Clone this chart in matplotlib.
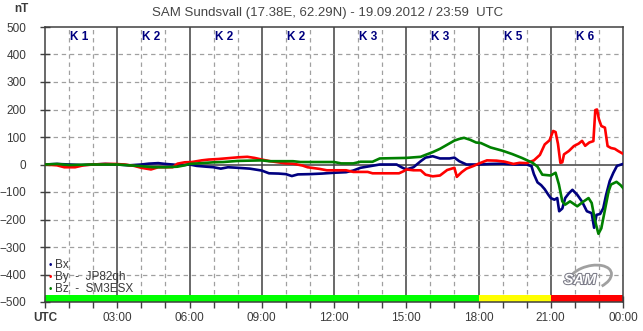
import matplotlib
matplotlib.use("Agg")
import matplotlib.pyplot as plt
from matplotlib.patches import Arc
import matplotlib.patheffects as pe

plt.rcParams['font.family'] = ['Liberation Sans', 'DejaVu Sans']

# ---- data (UTC hours, nT) ----
bx_t = [0, 0.5, 1, 1.5, 2, 2.5, 3, 3.5, 4, 4.3,
        4.7, 5, 5.3, 5.6, 6, 6.3, 6.7, 7, 7.3, 7.6,
        8, 8.5, 9, 9.3, 9.7, 10, 10.25, 10.5, 11, 11.5,
        12, 12.5, 12.8, 13.1, 13.5, 13.9, 14.3, 14.6, 14.8, 15,
        15.3, 15.6, 15.8, 16.1, 16.4, 16.8, 17.0, 17.2, 17.5, 18,
        18.5, 19, 19.5, 20, 20.2, 20.3, 20.45, 20.6, 20.75, 20.9,
        21.0, 21.15, 21.27, 21.35, 21.48, 21.6, 21.75, 21.9, 22.1, 22.3,
        22.5, 22.7, 22.8, 22.9, 23.05, 23.18, 23.3, 23.45, 23.6, 23.75,
        24]
bx = [0, 2, 0, -2, 0, 2, 0, -3, 0, 3,
      5, 2, 0, -3, 0, -5, -8, -10, -15, -10,
      -12, -15, -22, -32, -33, -35, -42, -36, -35, -33,
      -30, -28, -22, -12, -6, 0, 0, 0, -10, -18,
      -10, 12, 25, 30, 22, 22, 25, 12, 0, 0,
      2, 3, 0, 0, -6, -35, -65, -75, -90, -110,
      -122, -128, -122, -170, -160, -122, -105, -92, -110, -135,
      -170, -177, -230, -183, -180, -159, -110, -60, -30, -5,
      2]

by_t = [0, 0.5, 0.8, 1.25, 1.6, 2, 2.5, 2.9, 3.3, 3.7,
        4.0, 4.4, 4.7, 5.3, 5.5, 5.8, 6.1, 6.5, 6.8, 7.2,
        7.6, 8.0, 8.4, 8.7, 9.0, 9.35, 10.0, 10.3, 10.7, 10.9,
        11.4, 11.7, 12.5, 12.8, 13.4, 13.6, 14.7, 14.9, 15.0, 15.3,
        15.6, 15.8, 16.1, 16.4, 16.7, 17.0, 17.1, 17.3, 17.5, 17.8,
        18.0, 18.35, 18.75, 19.1, 19.45, 19.7, 20.0, 20.3, 20.55, 20.75,
        20.95, 21.1, 21.2, 21.3, 21.4, 21.48, 21.55, 21.75, 21.96, 22.16,
        22.3, 22.43, 22.6, 22.77, 22.85, 22.92, 23.0, 23.1, 23.25, 23.36,
        23.5, 23.66, 23.8, 24]
by = [0, -3, -10, -10, -3, 0, 2, 2, 0, -5,
      -12, -18, -10, -10, 3, 8, 9, 15, 18, 20,
      23, 26, 28, 24, 18, 12, 4, 3, -4, -10,
      -16, -21, -21, -27, -27, -32, -32, -24, -18, -21,
      -21, -37, -43, -40, -20, -12, -45, -28, -15, -5,
      3, 15, 14, 10, 2, 6, 5, 15, 35, 73,
      88, 122, 118, 75, 6, 8, 37, 49, 67, 76,
      86, 68, 80, 85, 198, 200, 165, 140, 134, 67,
      60, 57, 49, 39]

bz_t = [0, 0.5, 1, 2, 3, 3.5, 4, 4.5, 5, 5.5,
        5.8, 6.0, 6.5, 7.0, 7.4, 8.0, 9.0, 9.3, 10.3, 10.6,
        12.0, 12.3, 12.8, 13.1, 13.6, 13.9, 15.0, 15.6, 15.8, 16.1,
        16.4, 16.7, 17.0, 17.2, 17.4, 17.65, 17.9, 18.1, 18.5, 19.0,
        19.4, 19.8, 20.25, 20.45, 20.65, 21.0, 21.2, 21.34, 21.48, 21.6,
        21.8, 22.1, 22.37, 22.57, 22.7, 22.84, 22.98, 23.1, 23.25, 23.4,
        23.5, 23.73, 23.9, 24]
bz = [0, 2, -2, 0, 0, -3, -6, -10, -10, -8,
      -3, 2, 5, 8, 9, 13, 15, 12, 12, 9,
      9, 4, 4, 10, 10, 22, 24, 28, 35, 45,
      57, 72, 87, 93, 97, 90, 80, 78, 62, 50,
      38, 24, 6, -8, -37, -40, -30, -73, -134, -146,
      -134, -152, -134, -122, -140, -205, -252, -232, -165, -98,
      -73, -63, -75, -85]

# planetary K index per 3-hour block
k_start = [0, 3, 6, 9, 12, 15, 18, 21]
k_index = [1, 2, 2, 2, 3, 3, 5, 6]

x_ticks = [0, 3, 6, 9, 12, 15, 18, 21, 24]
x_labels = ['UTC', '03:00', '06:00', '09:00', '12:00', '15:00', '18:00', '21:00', '00:00']
y_ticks = list(range(-500, 501, 100))

title = 'SAM Sundsvall (17.38E, 62.29N) - 19.09.2012 / 23:59  UTC'
series_labels = ['Bx', 'By  -  JP82qh', 'Bz  -  SM3ESX']
series_colors = ['#00007f', '#ff0000', '#008000']

# ---- figure ----
W, H = 643, 331
fig = plt.figure(figsize=(W / 100, H / 100), dpi=100)
ax = fig.add_axes([45 / W, 1 - 302 / H, 578 / W, 275 / H])
ax.set_xlim(0, 24)
ax.set_ylim(-500, 500)

txt = '#3a3a3a'
grid_dark = '#404040'
grid_dash = '#a0a0a0'

# grid
for h in range(1, 24):
    if h % 3 == 0:
        ax.axvline(h, color=grid_dark, lw=1.1, zorder=1)
    else:
        ax.axvline(h, color=grid_dash, lw=0.9, ls=(0, (3.5, 3)), zorder=1)
for v in y_ticks[1:-1]:
    if v == 0:
        ax.axhline(0, color=grid_dark, lw=1.1, zorder=1)
    else:
        ax.axhline(v, color=grid_dash, lw=0.9, ls=(0, (3.5, 3)), zorder=1)

# K-index activity strip along the bottom
def k_color(k):
    if k >= 6:
        return '#ff0000'
    if k >= 5:
        return '#ffff00'
    return '#00ff00'

ax.bar(k_start, 25, width=3, bottom=-500, align='edge',
       color=[k_color(k) for k in k_index], edgecolor='none', zorder=2)

# K labels across the top
for s, k in zip(k_start, k_index):
    ax.text(s + 1.42, 462, f'K {k}', ha='center', va='center',
            color='#00007f', fontsize=8.5, fontweight='bold', zorder=4)

# magnetometer components
for t, v, c in zip([bx_t, by_t, bz_t], [bx, by, bz], series_colors):
    ax.plot(t, v, color=c, lw=1.9, zorder=3)

# axes styling
for sp in ax.spines.values():
    sp.set_color(grid_dark)
    sp.set_linewidth(1.1)
ax.set_xticks(x_ticks)
ax.set_xticklabels(x_labels)
ax.set_xticks(range(0, 25), minor=True)
ax.set_yticks(y_ticks)
ax.tick_params(axis='x', which='both', direction='inout', length=8,
               width=1, color=grid_dark, labelsize=8.5, labelcolor=txt, pad=3)
ax.tick_params(axis='y', direction='inout', length=7, width=1,
               color=grid_dark, labelsize=8.5, labelcolor=txt, pad=10)
ax.get_xticklabels()[0].set_fontweight('bold')

fig.text(328 / W, 1 - 13 / H, title, ha='center', va='center',
         fontsize=9.5, color='#454545')
fig.text(21 / W, 1 - 9 / H, 'nT', ha='center', va='center',
         fontsize=8.5, fontweight='bold', color=txt)

# component key in the lower left
for i, (lab, c) in enumerate(zip(series_labels, series_colors)):
    y = 1 - (265 + 12 * i) / H
    fig.text(50 / W, y, '\u2022', ha='center', va='center', fontsize=7, color=c)
    fig.text(55 / W, y, lab, ha='left', va='center', fontsize=8.5, color=txt)

# SAM logo
fig.text(580 / W, 1 - 280 / H, 'SAM', ha='center', va='center', fontsize=10.5,
         style='italic', fontweight='bold', color='white',
         path_effects=[pe.withStroke(linewidth=1.5, foreground='#7c7c88')])
logo_ax = fig.add_axes([0, 0, 1, 1], facecolor='none')
logo_ax.set_xlim(0, W)
logo_ax.set_ylim(H, 0)
logo_ax.axis('off')
logo_ax.add_patch(Arc((590, 278), 44, 24, angle=-15, theta1=-170, theta2=50,
                      color='#a0a0a0', lw=2.0))

fig.savefig('out.png', dpi=100)
